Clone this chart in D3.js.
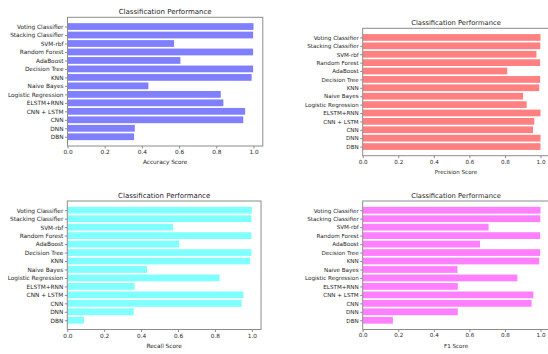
<!DOCTYPE html>
<html>
<head>
<meta charset="utf-8">
<script src="https://cdn.jsdelivr.net/npm/d3@7"></script>
<style>
html,body{margin:0;padding:0;background:#fff;}
svg{display:block;}
</style>
</head>
<body>
<svg id="chart" width="548" height="354"></svg>
<script>
// Categories, bottom (index 0) to top
const categories = ["DBN","DNN","CNN","CNN + LSTM","ELSTM+RNN","Logistic Regression","Naive Bayes","KNN","Decision Tree","AdaBoost","Random Forest","SVM-rbf","Stacking Classifier","Voting Classifier"];
const accuracy  = [0.358,0.362,0.945,0.955,0.838,0.824,0.435,0.990,0.998,0.607,0.998,0.573,0.998,1.000];
const precision = [1.000,1.000,0.958,0.965,1.000,0.922,0.902,0.993,0.998,0.813,0.998,0.977,0.999,1.000];
const recall    = [0.090,0.360,0.945,0.955,0.365,0.825,0.432,0.990,0.998,0.607,0.998,0.573,0.998,1.000];
const f1score   = [0.170,0.535,0.950,0.960,0.535,0.870,0.533,0.993,0.998,0.660,0.998,0.708,0.999,1.000];
const xTicks = [0,0.2,0.4,0.6,0.8,1.0];
const titleText = "Classification Performance";

const panels = [
  {values: accuracy,  label: "Accuracy Score",  color: "#8080ff", left: 67.5,  unit: 186.0, top: 17.3,  bottom: 146.0, fs: 5.8, tfs: 7.0},
  {values: precision, label: "Precision Score", color: "#ff8080", left: 362.7, unit: 177.8, top: 28.3,  bottom: 155.7, fs: 5.6, tfs: 6.75},
  {values: recall,    label: "Recall Score",    color: "#80ffff", left: 67.3,  unit: 184.5, top: 201.0, bottom: 329.5, fs: 5.8, tfs: 6.95},
  {values: f1score,   label: "F1 Score",        color: "#ff80ff", left: 362.7, unit: 177.8, top: 201.0, bottom: 329.5, fs: 5.6, tfs: 6.75}
];

const svg = d3.select("#chart");
const font = "DejaVu Sans, sans-serif";
const textColor = "#262626";
const spineColor = "#8c8c8c";

panels.forEach(p => {
  const right = p.left + p.unit * 1.05;
  const x = d3.scaleLinear().domain([0, 1.05]).range([p.left, right]);
  const y = d3.scaleLinear().domain([-1.09, 14.09]).range([p.bottom, p.top]);
  const g = svg.append("g");

  // bars
  g.selectAll("rect.bar").data(p.values).enter().append("rect")
    .attr("class","bar")
    .attr("x", x(0))
    .attr("y", (d,i) => y(i + 0.4))
    .attr("width", d => x(d) - x(0))
    .attr("height", (d,i) => y(i - 0.4) - y(i + 0.4))
    .attr("fill", p.color);

  // frame
  g.append("rect")
    .attr("x", p.left).attr("y", p.top)
    .attr("width", right - p.left).attr("height", p.bottom - p.top)
    .attr("fill","none").attr("stroke", spineColor).attr("stroke-width", 1);

  // x axis
  const xa = g.append("g").attr("transform", `translate(0,${p.bottom})`)
    .call(d3.axisBottom(x).tickValues(xTicks).tickFormat(d3.format(".1f")).tickSize(2.5).tickPadding(1.5));
  xa.select(".domain").remove();
  xa.selectAll("line").attr("stroke", spineColor);
  xa.selectAll("text").attr("font-family", font).attr("font-size", p.fs).attr("fill", textColor);

  // y axis
  const ya = g.append("g").attr("transform", `translate(${p.left},0)`)
    .call(d3.axisLeft(y).tickValues(d3.range(categories.length)).tickFormat(i => categories[i]).tickSize(2.5).tickPadding(1.5));
  ya.select(".domain").remove();
  ya.selectAll("line").attr("stroke", spineColor);
  ya.selectAll("text").attr("font-family", font).attr("font-size", p.fs).attr("fill", textColor);

  // title
  g.append("text")
    .attr("x", (p.left + right) / 2).attr("y", p.top - 3)
    .attr("text-anchor","middle")
    .attr("font-family", font).attr("font-size", p.tfs).attr("fill", textColor)
    .text(titleText);

  // x label
  g.append("text")
    .attr("x", (p.left + right) / 2).attr("y", p.bottom + 18)
    .attr("text-anchor","middle")
    .attr("font-family", font).attr("font-size", p.fs).attr("fill", textColor)
    .text(p.label);
});
</script>
</body>
</html>
